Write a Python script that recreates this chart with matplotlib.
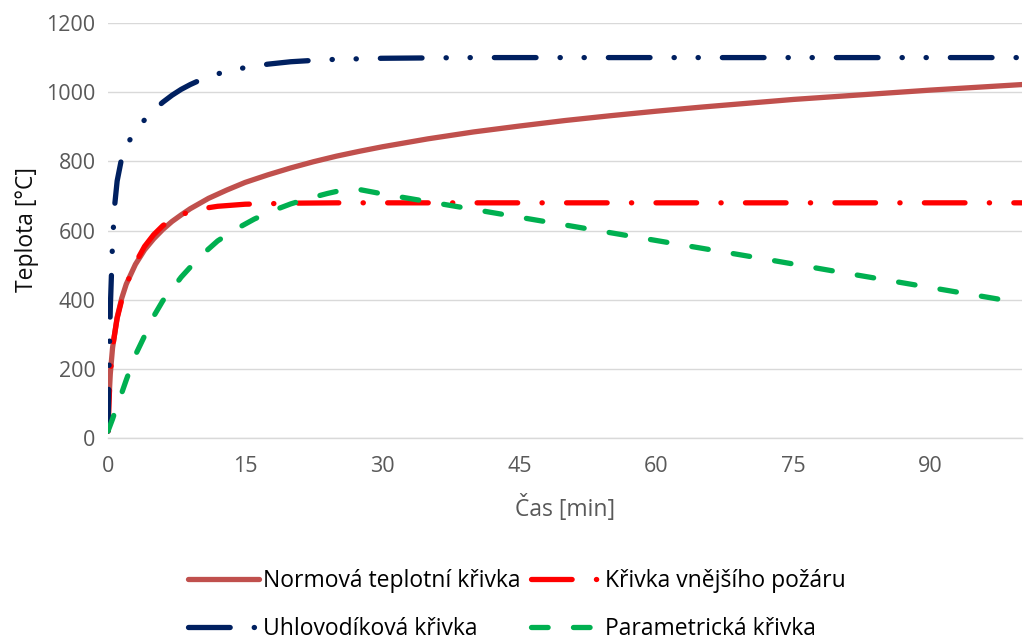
import matplotlib
matplotlib.use('Agg')
import matplotlib.pyplot as plt

plt.rcParams['font.family'] = ['Open Sans', 'DejaVu Sans']

# Normová teplotní křivka
t_iso = [0, 0.1, 0.25, 0.5, 1, 1.5, 2, 3, 4, 5, 6, 7, 8, 9, 10, 11, 12, 13, 15,
         17.5, 20, 22.5, 25, 27.5, 30, 35, 40, 45, 50, 55, 60, 65, 70, 75, 80,
         85, 90, 95, 100]
T_iso = [20, 108, 185, 261, 349, 404, 445, 502, 544, 576, 603, 626, 645, 663,
         678, 693, 705, 717, 739, 761, 781, 799, 815, 829, 842, 865, 885, 902,
         918, 932, 945, 957, 968, 979, 988, 997, 1006, 1014, 1022]

# Křivka vnějšího požáru
t_ext = [0, 0.1, 0.25, 0.5, 1, 1.5, 2, 2.5, 3, 4, 5, 6, 7, 8, 9, 10, 12, 15,
         20, 25, 30, 100]
T_ext = [20, 100, 182, 263, 346, 399, 441, 476, 506, 554, 588, 614, 632, 645,
         655, 662, 670, 676, 679, 680, 680, 680]

# Uhlovodíková křivka
t_hc = [0, 0.1, 0.25, 0.5, 0.75, 1, 1.5, 2, 2.5, 3, 4, 5, 6, 7, 8, 9, 10, 12,
        13.5, 15, 17.5, 20, 22.5, 25, 30, 35, 40, 100]
T_hc = [20, 187, 373, 569, 678, 743, 810, 844, 867, 887, 920, 948, 971, 991,
        1008, 1022, 1034, 1053, 1063, 1071, 1081, 1088, 1092, 1095, 1098, 1099,
        1100, 1100]

# Parametrická křivka
t_par = [0, 0.5, 1, 1.5, 2, 3, 4, 5, 6, 7, 8, 10, 12, 14, 16, 18, 20, 22, 24,
         26, 27, 30, 40, 50, 60, 70, 80, 90, 98]
T_par = [20, 55, 95, 130, 168, 240, 295, 352, 397, 430, 465, 523, 570, 604, 633,
         657, 677, 693, 707, 719, 721, 706, 661, 616, 571, 526, 480, 435, 399]

labels = ['Normová teplotní křivka', 'Křivka vnějšího požáru',
          'Uhlovodíková křivka', 'Parametrická křivka']

fig = plt.figure(figsize=(10.24, 6.41), dpi=100)
ax = fig.add_axes([108 / 1024, 1 - 438 / 641, 914 / 1024, 415 / 641])

lw = 3.8
l1, = ax.plot(t_iso, T_iso, color='#C0504D', lw=lw, solid_capstyle='round',
              solid_joinstyle='round', label=labels[0])
l2, = ax.plot(t_ext, T_ext, color='#FF0000', lw=lw, dash_capstyle='round',
              linestyle=(0, (7.7, 4.6, 0.05, 4.6)), label=labels[1])
l3, = ax.plot(t_hc, T_hc, color='#002060', lw=lw, dash_capstyle='round',
              linestyle=(0, (7.9, 4.55, 0.05, 4.5, 0.05, 4.55)), label=labels[2])
l4, = ax.plot(t_par, T_par, color='#00B050', lw=lw, dash_capstyle='round',
              linestyle=(0, (3.15, 4.8)), label=labels[3])

ax.set_xlim(0, 100)
ax.set_ylim(0, 1200)
ax.set_xticks(range(0, 91, 15))
ax.set_yticks(range(0, 1201, 200))
ax.grid(axis='y', color='#D9D9D9', lw=1.0)
ax.set_axisbelow(True)
for s in ['top', 'right', 'left']:
    ax.spines[s].set_visible(False)
ax.spines['bottom'].set_color('#D9D9D9')
ax.spines['bottom'].set_linewidth(1.0)
ax.tick_params(length=0, labelsize=15.5, labelcolor='#595959')
ax.tick_params(axis='y', pad=9)
ax.tick_params(axis='x', pad=13)

fig.text(27 / 1024, 1 - 230 / 641, 'Teplota [°C]', rotation=90, ha='center',
         va='center', fontsize=16.5, color='#0D0D0D')
fig.text(565 / 1024, 1 - 508 / 641, 'Čas [min]', ha='center', va='center',
         fontsize=16.5, color='#595959')

fig.legend([l1, l3, l2, l4], [labels[0], labels[2], labels[1], labels[3]],
           ncol=2, loc='center', bbox_to_anchor=(517 / 1024, 1 - 605 / 641),
           frameon=False, fontsize=16.5, handlelength=3.1, handletextpad=0.15,
           columnspacing=0.45, labelspacing=1.05, borderpad=0)

fig.savefig('out.png', dpi=100)
